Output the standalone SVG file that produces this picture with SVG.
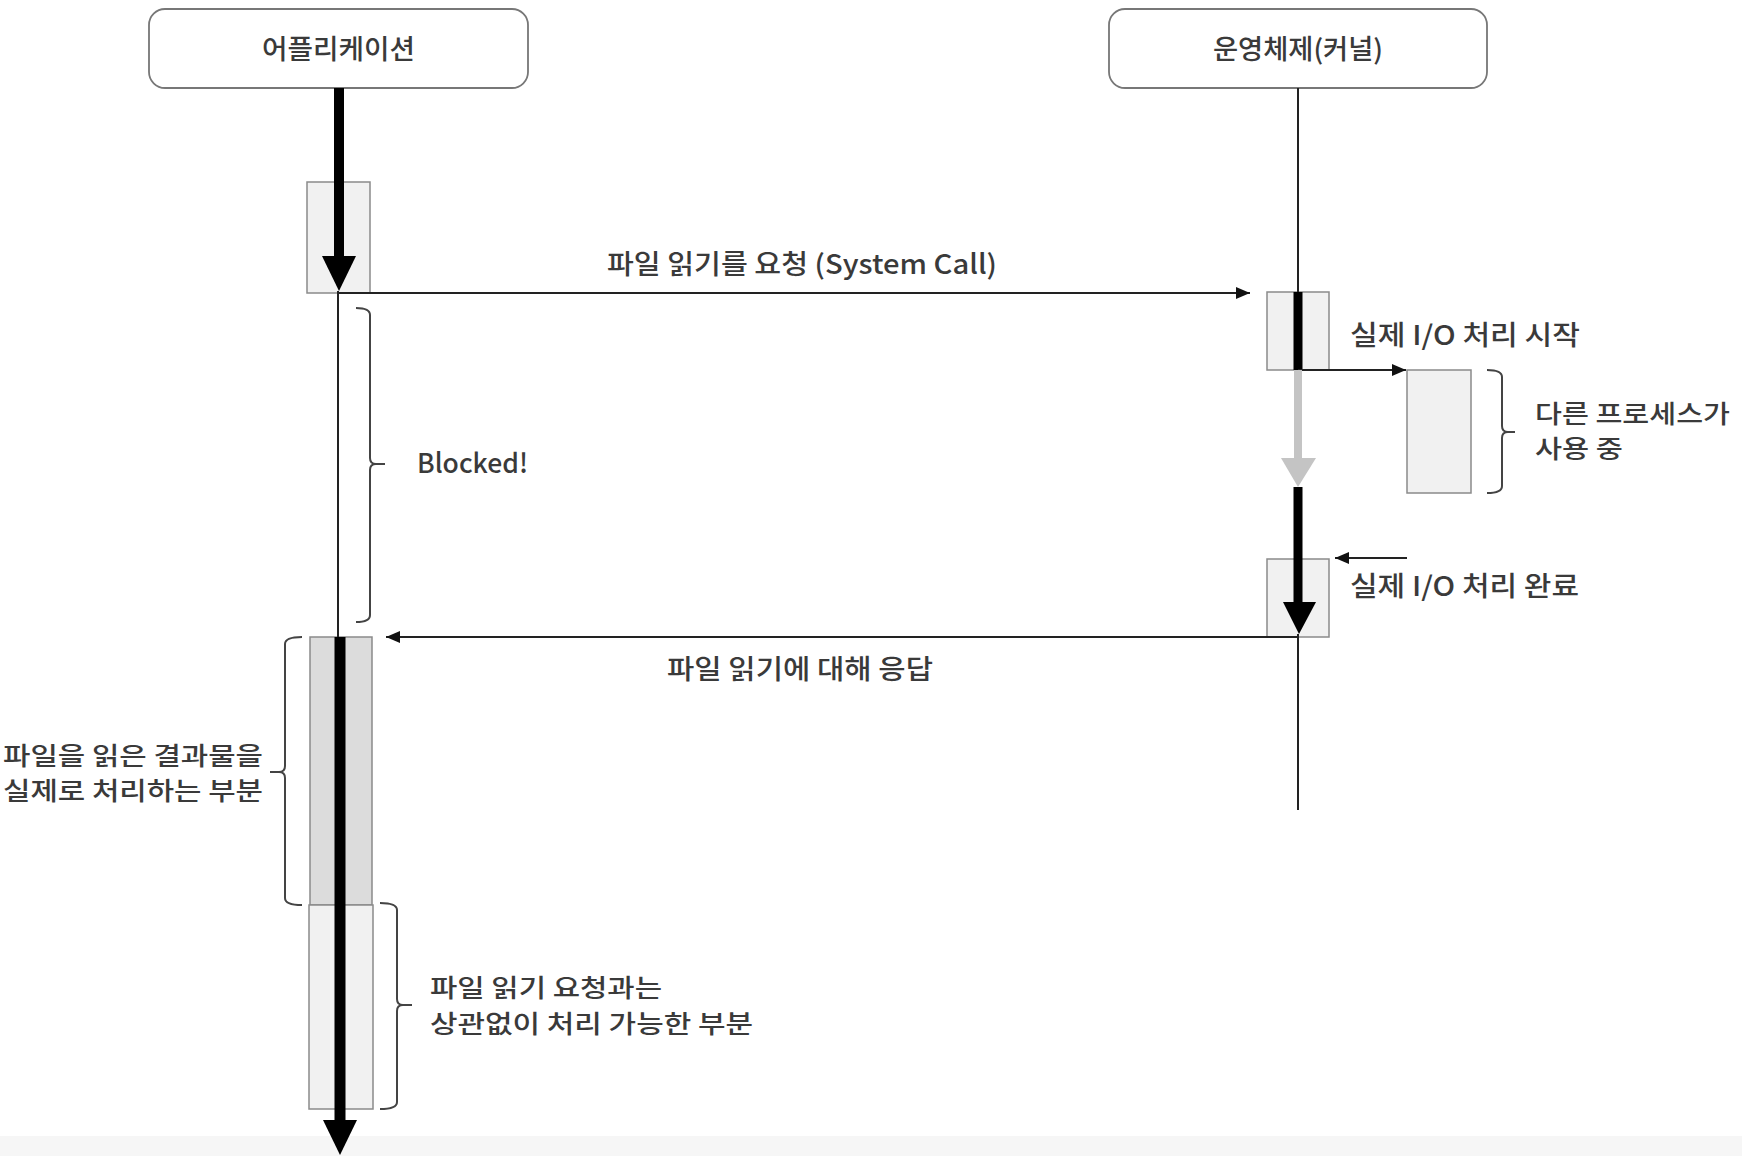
<svg xmlns="http://www.w3.org/2000/svg" width="1742" height="1156" viewBox="0 0 1742 1156">
<defs>
<style>
text{font-family:"Noto Sans CJK KR","Noto Sans",sans-serif;fill:#3a3a3a;font-size:27px;font-weight:500}
text.ml{font-size:25px}
.hdr{fill:#fff;stroke:#777;stroke-width:1.8}
.act{fill:#f1f1f1;stroke:#8a8a8a;stroke-width:1.5}
.act2{fill:#dcdcdc;stroke:#8a8a8a;stroke-width:1.5}
.thin{stroke:#222;stroke-width:2;fill:none}
.thick{stroke:#000;stroke-width:10;fill:none}
.brace{stroke:#444;stroke-width:2;fill:none}
</style>
<marker id="ah" markerWidth="14" markerHeight="12" refX="14" refY="6" orient="auto" markerUnits="userSpaceOnUse">
<path d="M0,0 L14,6 L0,12 Z" fill="#111"/>
</marker>
</defs>
<rect x="0" y="1136" width="1742" height="20" fill="#f6f6f6"/>
<g id="app-header">
<rect class="hdr" x="149" y="9" width="379" height="79" rx="16"/>
<text x="262" y="59" textLength="153" lengthAdjust="spacingAndGlyphs">어플리케이션</text>
</g>
<g id="os-header">
<rect class="hdr" x="1109" y="9" width="378" height="79" rx="16"/>
<text x="1213" y="59" textLength="170" lengthAdjust="spacingAndGlyphs">운영체제(커널)</text>
</g>
<g id="app-activations">
<rect id="app-call" class="act" x="307" y="182" width="63" height="111"/>
<rect id="app-process" class="act2" x="310" y="637" width="62" height="268"/>
<rect id="app-other" class="act" x="309" y="905" width="64" height="204"/>
</g>
<g id="os-activations">
<rect id="os-start" class="act" x="1267" y="292" width="62" height="78"/>
<rect id="os-other" class="act" x="1407" y="370" width="64" height="123"/>
<rect id="os-done" class="act" x="1267" y="559" width="62" height="78"/>
</g>
<g id="connectors">
<line class="thick" x1="339" y1="88" x2="339" y2="258"/>
<path d="M322,256 L356,256 L339,291 Z" fill="#000"/>
<line class="thin" x1="338" y1="291" x2="338" y2="637"/>
<line class="thin" x1="339" y1="293" x2="1250" y2="293" marker-end="url(#ah)"/>
<line class="thin" x1="1298" y1="88" x2="1298" y2="292"/>
<line stroke="#000" stroke-width="9" x1="1298" y1="292" x2="1298" y2="370"/>
<line class="thin" x1="1298" y1="370" x2="1406" y2="370" marker-end="url(#ah)"/>
<line stroke="#c4c4c4" stroke-width="8" x1="1298" y1="370" x2="1298" y2="460"/>
<path d="M1281,458 L1316,458 L1298,487 Z" fill="#c4c4c4"/>
<line stroke="#000" stroke-width="9" x1="1298" y1="487" x2="1298" y2="605"/>
<path d="M1283,602 L1316,602 L1299,634 Z" fill="#000"/>
<line class="thin" x1="1407" y1="558" x2="1335" y2="558" marker-end="url(#ah)"/>
<line class="thin" x1="1298" y1="634" x2="1298" y2="810"/>
<line class="thin" x1="1298" y1="637" x2="386" y2="637" marker-end="url(#ah)"/>
<line stroke="#000" stroke-width="11" x1="340" y1="637" x2="340" y2="1122"/>
<path d="M323,1120 L357,1120 L340,1155 Z" fill="#000"/>
</g>
<g id="braces">
<path class="brace" d="M356,308 Q370,308 370,315 L370,458 Q370,464 376,464 L385,464 M376,464 Q370,464 370,470 L370,615 Q370,622 356,622"/>
<path class="brace" d="M1487,370 Q1502,370 1502,377 L1502,426 Q1502,432 1508,432 L1515,432 M1508,432 Q1502,432 1502,438 L1502,486 Q1502,493 1487,493"/>
<path class="brace" d="M302,637 Q285,637 285,644 L285,766 Q285,772 279,772 L270,772 M279,772 Q285,772 285,778 L285,898 Q285,905 302,905"/>
<path class="brace" d="M380,903 Q397,903 397,910 L397,999 Q397,1005 403,1005 L412,1005 M403,1005 Q397,1005 397,1011 L397,1102 Q397,1109 380,1109"/>
</g>
<g id="labels">
<text x="607" y="274" textLength="390" lengthAdjust="spacingAndGlyphs">파일 읽기를 요청 (System Call)</text>
<text x="667" y="679" textLength="266" lengthAdjust="spacingAndGlyphs">파일 읽기에 대해 응답</text>
<text x="1350" y="345" textLength="230" lengthAdjust="spacingAndGlyphs">실제 I/O 처리 시작</text>
<text x="1350" y="596" textLength="229" lengthAdjust="spacingAndGlyphs">실제 I/O 처리 완료</text>
<text class="ml" x="1535" y="423" textLength="195" lengthAdjust="spacingAndGlyphs">다른 프로세스가</text>
<text class="ml" x="1535" y="458" textLength="88" lengthAdjust="spacingAndGlyphs">사용 중</text>
<text x="417" y="473" textLength="111" lengthAdjust="spacingAndGlyphs">Blocked!</text>
<text class="ml" x="3" y="765" textLength="260" lengthAdjust="spacingAndGlyphs">파일을 읽은 결과물을</text>
<text class="ml" x="3" y="800" textLength="260" lengthAdjust="spacingAndGlyphs">실제로 처리하는 부분</text>
<text class="ml" x="430" y="997" textLength="232" lengthAdjust="spacingAndGlyphs">파일 읽기 요청과는</text>
<text class="ml" x="430" y="1033" textLength="323" lengthAdjust="spacingAndGlyphs">상관없이 처리 가능한 부분</text>
</g>
</svg>
